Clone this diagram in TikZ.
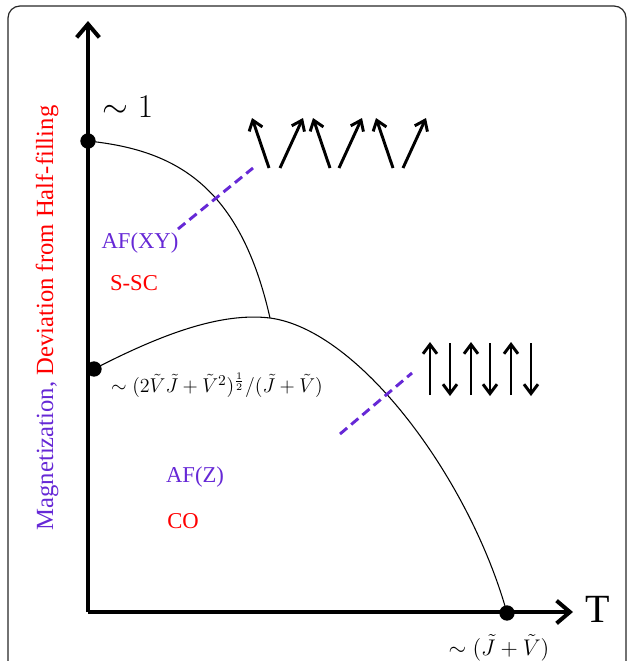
\documentclass[tikz,border=0pt]{standalone}
\usepackage{fontspec}
\setmainfont{Liberation Serif}
\usepackage{xcolor}
\usetikzlibrary{arrows.meta}
\definecolor{afpurple}{RGB}{102,40,214}
\tikzset{
  axisline/.style={line width=3pt, -{Straight Barb[length=10pt, width=17pt]}},
  spin/.style={line width=2.2pt, -{Straight Barb[length=7pt, width=10.5pt]}},
  phase/.style={line width=0.8pt},
  cut/.style={afpurple, line width=2.2pt, dash pattern=on 7pt off 4pt},
  dot/.style={circle, fill, inner sep=0pt, minimum size=11.5pt},
  lbl/.style={font=\fontsize{17}{20}\selectfont, inner sep=0pt}
}

\begin{document}
\begin{tikzpicture}[x=0.75pt, y=-0.75pt]
  \useasboundingbox (0,0) rectangle (627,661);
  \draw[black!85, line width=0.9pt, rounded corners=9pt] (8,6) rectangle (626,720);

  % axes
  \coordinate (O) at (88,612);
  \coordinate (ytip) at (88,21);
  \coordinate (xtip) at (573,612);
  \draw[axisline] (O) -- (ytip);
  \draw[axisline] (O) -- (xtip);
  \node[font=\fontsize{30}{30}\selectfont, inner sep=0pt] (T) at (598,609) {T};
  \node[font=\fontsize{18.5}{20}\selectfont, inner sep=0pt, rotate=90] (ylab) at (47,318)
    {\textcolor{afpurple}{Magnetization,} \textcolor{red}{Deviation from Half-filling}};

  % points on the axes
  \node[dot] (m1) at (88,141) {};
  \node[dot] (d0) at (94,369) {};
  \node[dot] (tc) at (507,613) {};
  \coordinate (meet) at (270,318);
  \node[font=\fontsize{24}{24}\selectfont, inner sep=0pt] (one) at (128,107) {$\sim 1$};
  \node[font=\fontsize{13}{15}\selectfont, inner sep=0pt, scale=1.25] (dev) at (217,385)
    {$\sim(2\tilde{V}\tilde{J}+\tilde{V}^2)^{\frac{1}{2}}/(\tilde{J}+\tilde{V})$};
  \node[font=\fontsize{15}{17}\selectfont, inner sep=0pt, scale=1.18] (tcl) at (499,648)
    {$\sim(\tilde{J}+\tilde{V})$};

  % phase boundaries
  \draw[phase] (m1.center) .. controls (175,150) and (240,185) .. (meet);
  \draw[phase] (d0.center) .. controls (160,335) and (220,312) .. (meet)
    .. controls (360,330) and (470,480) .. (tc.center);

  % phases
  \node[lbl, text=afpurple] (afxy) at (140,243) {AF(XY)};
  \node[lbl, text=red] (ssc) at (134,283) {S-SC};
  \node[lbl, text=afpurple] (afz) at (195,477) {AF(Z)};
  \node[lbl, text=red] (co) at (183,521) {CO};

  \coordinate (xy1) at (178,229);
  \coordinate (xy2) at (253,168);
  \coordinate (z1) at (340,434);
  \coordinate (z2) at (412,373);
  \draw[cut] (xy1) -- (xy2);
  \draw[cut] (z1) -- (z2);

  % spins
  \foreach \x in {269,330,393}
    \draw[spin] (\x,168) -- ++(-17,-50);
  \foreach \x in {280,339,403}
    \draw[spin] (\x,168) -- ++(23,-50);
  \foreach \x in {430,471,511}
    \draw[spin] (\x,395) -- (\x,342);
  \foreach \x in {450,490,531}
    \draw[spin] (\x,343) -- (\x,396);
\end{tikzpicture}
\end{document}
